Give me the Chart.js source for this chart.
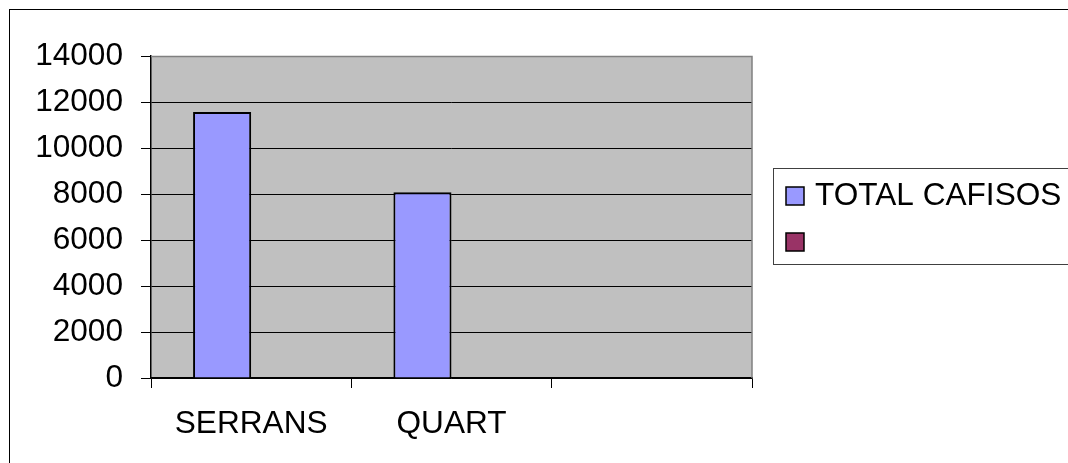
<!DOCTYPE html>
<html>
<head>
<meta charset="utf-8">
<script src="https://cdn.jsdelivr.net/npm/chart.js@4/dist/chart.umd.min.js"></script>
<style>
html,body{margin:0;padding:0;background:#fff;}
#wrap{width:1068px;height:463px;position:relative;}
</style>
</head>
<body>
<div id="wrap"><canvas id="c" width="1068" height="463"></canvas></div>
<script>
const categories = ['SERRANS', 'QUART', ''];
const totalCafisos = [11560, 8080, null];
const secondSeries = [null, null, null];
const seriesLabels = ['TOTAL CAFISOS', ''];
const seriesColors = ['#9999FF', '#993366'];
const yTicks = [0, 2000, 4000, 6000, 8000, 10000, 12000, 14000];

const FONT = '"Liberation Sans", Arial, sans-serif';
const FSIZE = 31.6;

const framePlugin = {
  id: 'frame',
  beforeDraw(chart) {
    const ctx = chart.ctx, a = chart.chartArea;
    ctx.save();
    ctx.fillStyle = '#fff';
    ctx.fillRect(0, 0, chart.width, chart.height);
    ctx.strokeStyle = '#000';
    ctx.lineWidth = 1;
    ctx.strokeRect(9.5, 9.5, chart.width + 20, chart.height + 20);
    ctx.fillStyle = '#C0C0C0';
    ctx.fillRect(a.left, a.top, a.right - a.left, a.bottom - a.top);
    ctx.restore();
  },
  beforeDatasetsDraw(chart) {
    const ctx = chart.ctx, a = chart.chartArea;
    ctx.save();
    ctx.strokeStyle = '#808080';
    ctx.lineWidth = 1.5;
    ctx.beginPath();
    ctx.moveTo(a.left, a.top + 0.5);
    ctx.lineTo(a.right, a.top + 0.5);
    ctx.lineTo(a.right, a.bottom);
    ctx.stroke();
    ctx.restore();
  },
  afterDraw(chart) {
    const ctx = chart.ctx;
    ctx.save();
    ctx.fillStyle = '#fff';
    ctx.fillRect(773, 168, 320, 96);
    ctx.strokeStyle = '#404040';
    ctx.lineWidth = 1;
    ctx.strokeRect(773.5, 168.5, 320, 96);
    ctx.font = FSIZE + 'px ' + FONT;
    ctx.textBaseline = 'alphabetic';
    ctx.textAlign = 'left';
    chart.data.datasets.forEach((ds, i) => {
      const y = 187 + i * 46;
      ctx.fillStyle = ds.backgroundColor;
      ctx.fillRect(786, y, 18, 18);
      ctx.strokeStyle = '#000';
      ctx.lineWidth = 1.5;
      ctx.strokeRect(786, y, 18, 18);
      ctx.fillStyle = '#000';
      ctx.fillText(ds.label, 815, y + 18);
    });
    ctx.restore();
  }
};

new Chart(document.getElementById('c'), {
  type: 'bar',
  data: {
    labels: categories,
    datasets: [
      { label: seriesLabels[0], data: totalCafisos, backgroundColor: seriesColors[0], borderColor: '#000', borderWidth: 2, categoryPercentage: 0.58, barPercentage: 1 },
      { label: seriesLabels[1], data: secondSeries, backgroundColor: seriesColors[1], borderColor: '#000', borderWidth: 2, categoryPercentage: 0.58, barPercentage: 1 }
    ]
  },
  options: {
    responsive: false,
    animation: false,
    layout: { padding: { left: 0, top: 56, right: 316, bottom: 0 } },
    plugins: { legend: { display: false }, tooltip: { enabled: false } },
    scales: {
      x: {
        offset: true,
        afterFit(s) { s.height = 85; },
        grid: { offset: true, drawOnChartArea: false, drawTicks: true, tickLength: 10, color: '#000', lineWidth: 1 },
        border: { display: true, color: '#000', width: 1.5 },
        ticks: { color: '#000', font: { family: FONT, size: FSIZE }, padding: 17, maxRotation: 0, autoSkip: false }
      },
      y: {
        min: 0, max: 14000,
        afterFit(s) { s.width = 151; },
        afterBuildTicks(s) { s.ticks = yTicks.map(v => ({ value: v })); },
        grid: { color: (c) => c.tick && c.tick.value === 14000 ? '#808080' : '#000', tickColor: '#000', lineWidth: 1, tickLength: 10 },
        border: { display: true, color: '#000', width: 1.5 },
        ticks: { color: '#000', font: { family: FONT, size: FSIZE }, padding: 18, callback: (v) => String(v) }
      }
    }
  },
  plugins: [framePlugin]
});
</script>
</body>
</html>
